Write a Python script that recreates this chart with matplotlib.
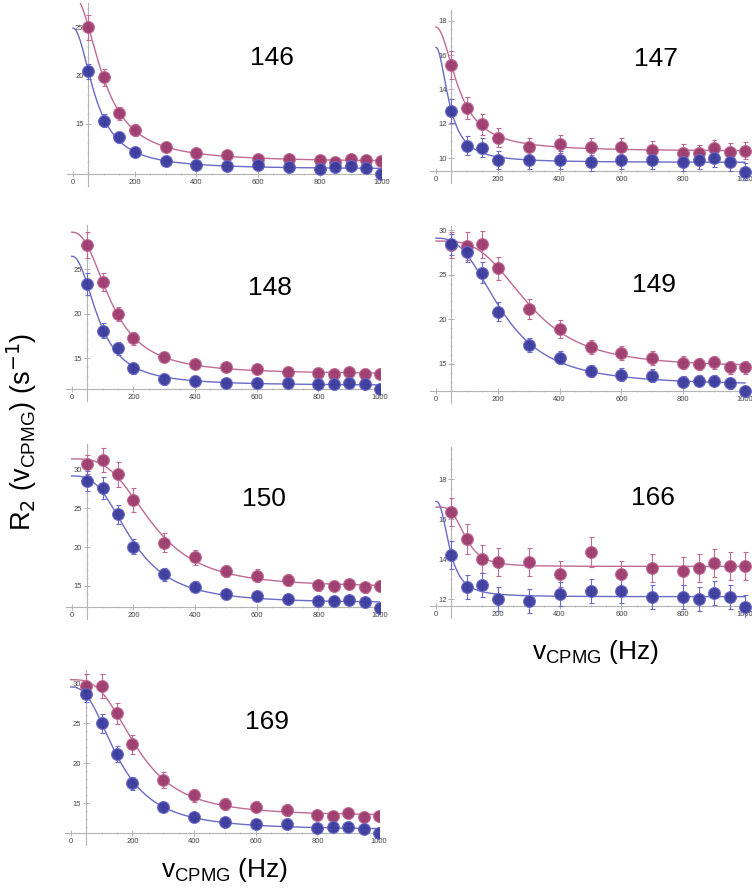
import numpy as np
import matplotlib.pyplot as plt

# frequencias CPMG (Hz), iguais em todos os residuos
nu = [50, 100, 150, 200, 300, 400, 500, 600, 700, 800, 850, 900, 950, 1000]

# R2 (azul / magenta) e barras de erro
r146_blue = [20.5, 15.35, 13.6, 12.05, 11.15, 10.76, 10.66, 10.7, 10.5, 10.3, 10.55, 10.66, 10.4, 9.8]
r146_mag = [25.1, 19.85, 16.1, 14.35, 12.6, 12.0, 11.77, 11.4, 11.4, 11.25, 11.0, 11.4, 11.25, 11.1]
e146_blue = [0.8, 0.7, 0.6, 0.5, 0.5, 0.4, 0.4, 0.4, 0.4, 0.4, 0.4, 0.4, 0.4, 0.4]
e146_mag = [1.3, 0.85, 0.7, 0.6, 0.5, 0.4, 0.4, 0.4, 0.4, 0.4, 0.4, 0.4, 0.4, 0.4]

r147_blue = [12.77, 10.72, 10.62, 9.9, 9.9, 9.9, 9.78, 9.88, 9.88, 9.78, 9.88, 10.02, 9.78, 9.22]
r147_mag = [15.42, 12.94, 11.97, 11.2, 10.68, 10.83, 10.68, 10.68, 10.48, 10.33, 10.29, 10.58, 10.39, 10.44]
e147_blue = [0.7, 0.55, 0.55, 0.55, 0.5, 0.5, 0.5, 0.5, 0.5, 0.5, 0.5, 0.5, 0.5, 0.5]
e147_mag = [0.8, 0.65, 0.6, 0.55, 0.5, 0.5, 0.5, 0.5, 0.5, 0.5, 0.5, 0.5, 0.5, 0.5]

r148_blue = [23.32, 18.1, 16.12, 13.88, 12.65, 12.5, 12.24, 12.28, 12.28, 12.09, 12.09, 12.24, 12.13, 11.53]
r148_mag = [27.69, 23.54, 19.93, 17.24, 15.15, 14.33, 14.03, 13.84, 13.51, 13.32, 13.25, 13.47, 13.25, 13.25]
e148_blue = [1.2, 0.8, 0.7, 0.6, 0.6, 0.5, 0.5, 0.5, 0.5, 0.5, 0.5, 0.5, 0.5, 0.5]
e148_mag = [1.5, 1.0, 0.8, 0.7, 0.6, 0.5, 0.5, 0.5, 0.5, 0.5, 0.5, 0.5, 0.5, 0.5]

r149_blue = [28.4, 27.57, 25.22, 20.86, 17.16, 15.71, 14.22, 13.81, 13.69, 13.02, 13.13, 13.13, 12.84, 11.94]
r149_mag = [28.32, 28.21, 28.4, 25.71, 21.16, 18.88, 16.94, 16.27, 15.71, 15.15, 15.0, 15.19, 14.63, 14.63]
e149_blue = [1.2, 1.2, 1.2, 1.1, 0.8, 0.7, 0.7, 0.7, 0.7, 0.6, 0.6, 0.6, 0.6, 0.6]
e149_mag = [1.5, 1.6, 1.5, 1.3, 1.1, 1.0, 0.8, 0.8, 0.8, 0.7, 0.7, 0.7, 0.7, 0.7]

r150_blue = [28.46, 27.56, 24.22, 20.06, 16.5, 14.91, 13.97, 13.71, 13.33, 13.03, 13.03, 13.16, 12.94, 12.21]
r150_mag = [30.64, 31.2, 29.36, 26.06, 20.57, 18.69, 16.93, 16.33, 15.77, 15.09, 15.0, 15.26, 14.83, 15.0]
e150_blue = [1.3, 1.4, 1.2, 1.0, 0.8, 0.7, 0.7, 0.6, 0.6, 0.6, 0.6, 0.6, 0.6, 0.6]
e150_mag = [1.2, 1.6, 1.6, 1.5, 1.2, 1.0, 0.8, 0.8, 0.8, 0.7, 0.7, 0.7, 0.7, 0.7]

r166_blue = [14.22, 12.63, 12.72, 12.02, 11.92, 12.25, 12.43, 12.43, 12.13, 12.13, 12.03, 12.33, 12.13, 11.63]
r166_mag = [16.35, 15.03, 14.02, 13.88, 13.88, 13.27, 14.38, 13.27, 13.58, 13.42, 13.55, 13.83, 13.67, 13.67]
e166_blue = [0.7, 0.6, 0.6, 0.6, 0.6, 0.6, 0.6, 0.6, 0.6, 0.6, 0.6, 0.6, 0.6, 0.6]
e166_mag = [0.7, 0.75, 0.7, 0.7, 0.7, 0.65, 0.75, 0.65, 0.7, 0.7, 0.7, 0.7, 0.7, 0.7]

r169_blue = [28.63, 25.0, 21.13, 17.5, 14.5, 13.33, 12.63, 12.38, 12.42, 11.96, 12.0, 12.08, 11.75, 11.25]
r169_mag = [29.67, 29.67, 26.25, 22.38, 17.92, 16.0, 14.92, 14.58, 14.17, 13.54, 13.42, 13.75, 13.33, 13.42]
e169_blue = [1.0, 1.2, 1.0, 0.8, 0.6, 0.6, 0.5, 0.5, 0.5, 0.5, 0.5, 0.5, 0.5, 0.5]
e169_mag = [1.5, 1.5, 1.3, 1.2, 1.0, 0.8, 0.7, 0.7, 0.7, 0.6, 0.6, 0.6, 0.6, 0.6]

residues = ['146', '147', '148', '149', '150', '166', '169']
blue_sets = [r146_blue, r147_blue, r148_blue, r149_blue, r150_blue, r166_blue, r169_blue]
mag_sets = [r146_mag, r147_mag, r148_mag, r149_mag, r150_mag, r166_mag, r169_mag]
eblue_sets = [e146_blue, e147_blue, e148_blue, e149_blue, e150_blue, e166_blue, e169_blue]
emag_sets = [e146_mag, e147_mag, e148_mag, e149_mag, e150_mag, e166_mag, e169_mag]

W, H = 752, 888
BLUE, BLUE_L = '#3a3a9c', '#6a6ac8'
MAG, MAG_L = '#9c3a6c', '#bf6a94'
AXC = '#b4b4b4'


def fit_curve(x, y):
    # ajuste R = Rinf + A/(1+(x/x0)^n), busca em grade + minimos quadrados
    x = np.asarray(x, float)
    y = np.asarray(y, float)
    x0s = np.linspace(45, 500, 92)
    ns = np.linspace(2, 7, 51)
    X0, N = np.meshgrid(x0s, ns, indexing='ij')
    g = 1.0 / (1.0 + (x[None, None, :] / X0[..., None]) ** N[..., None])
    gm = g.mean(-1, keepdims=True)
    ym = y.mean()
    slope = ((g - gm) * (y - ym)).sum(-1) / ((g - gm) ** 2).sum(-1)
    icpt = ym - slope * gm[..., 0]
    res = ((icpt[..., None] + slope[..., None] * g - y) ** 2).sum(-1)
    i, j = np.unravel_index(np.argmin(res), res.shape)
    xf = np.linspace(0, 1000, 400)
    return xf, icpt[i, j] + slope[i, j] / (1 + (xf / x0s[i]) ** ns[j])


# layout de cada painel em pixels: x0px, px/Hz, y ref, px ref, px/unid, cruzamento, ymax, xmax, ticks, minor
layout = [
    (73.0, 0.31, 15, 124.0, 9.6, 9.8, 27.6, 995, [15, 20, 25], 1),
    (436.0, 0.309, 10, 158.3, 17.2, 9.26, 18.6, 1020, [10, 12, 14, 16, 18], 0.5),
    (71.7, 0.31, 15, 358.3, 8.93, 11.53, 29.9, 995, [15, 20, 25], 1),
    (436.0, 0.309, 15, 364.0, 8.93, 12.0, 30.4, 1020, [15, 20, 25, 30], 1),
    (71.7, 0.31, 15, 586.0, 7.78, 12.26, 33.3, 995, [15, 20, 25, 30], 1),
    (436.0, 0.309, 12, 599.3, 20.0, 11.67, 19.6, 1020, [12, 14, 16, 18], 0.5),
    (70.7, 0.31, 15, 803.3, 8.0, 11.25, 31.7, 995, [15, 20, 25, 30], 1),
]
label_pos = [(272, 58), (656, 59), (270, 288), (654, 285), (264, 499), (653, 498), (267, 722)]

plt.rcParams['font.family'] = ['Liberation Sans', 'DejaVu Sans']
fig = plt.figure(figsize=(W / 100, H / 100), dpi=100)

for k in range(len(residues)):
    x0px, sx, yref, ypx, ppu, cross, ymax, xmax, yt, ymin_step = layout[k]
    xmin = -20
    ylow = cross - 12 / ppu
    left = x0px + xmin * sx
    right = x0px + xmax * sx
    top = ypx - (ymax - yref) * ppu
    bottom = ypx - (ylow - yref) * ppu
    ax = fig.add_axes([left / W, 1 - bottom / H, (right - left) / W, (bottom - top) / H])
    ax.set_xlim(xmin, xmax)
    ax.set_ylim(ylow, ymax)
    ax.patch.set_visible(False)
    for s in ['top', 'right']:
        ax.spines[s].set_visible(False)
    ax.spines['bottom'].set_position(('data', cross))
    ax.spines['left'].set_position(('data', 50))
    for s in ['bottom', 'left']:
        ax.spines[s].set_color(AXC)
        ax.spines[s].set_linewidth(0.8)
    ax.set_xticks(range(0, 1001, 200))
    ax.set_xticks(range(0, 1001, 50), minor=True)
    ax.set_yticks(yt)
    ax.set_yticks(np.arange(np.ceil(cross), ymax, ymin_step), minor=True)
    ax.tick_params(which='both', direction='inout', color=AXC, labelsize=5.5,
                   labelcolor='#444444', pad=1.5)
    ax.tick_params(which='major', length=4, width=0.7)
    ax.tick_params(which='minor', length=2, width=0.5)

    for vals, errs, c, cl in [(mag_sets[k], emag_sets[k], MAG, MAG_L),
                              (blue_sets[k], eblue_sets[k], BLUE, BLUE_L)]:
        xf, yf = fit_curve(nu, vals)
        ax.plot(xf, yf, color=cl, lw=1.0, zorder=2)
        ax.errorbar(nu, vals, yerr=errs, fmt='none', ecolor=cl, elinewidth=0.8,
                    capsize=1.8, capthick=0.8, zorder=3)
        ax.plot(nu, vals, 'o', ms=8.5, color=c, mec=cl, mew=0.8, alpha=0.95, zorder=4)

    lx, ly = label_pos[k]
    fig.text(lx / W, 1 - ly / H, residues[k], fontsize=19, ha='center', va='center')

fig.text(22 / W, 1 - 432 / H, r'R$_2$ (v$_{\mathregular{CPMG}}$) (s$^{-1}$)', fontsize=19.5,
         rotation=90, ha='center', va='center')
fig.text(225 / W, 1 - 870 / H, r'v$_{\mathregular{CPMG}}$ (Hz)', fontsize=19, ha='center', va='center')
fig.text(596 / W, 1 - 652 / H, r'v$_{\mathregular{CPMG}}$ (Hz)', fontsize=19, ha='center', va='center')

fig.savefig('out.png', dpi=100)
